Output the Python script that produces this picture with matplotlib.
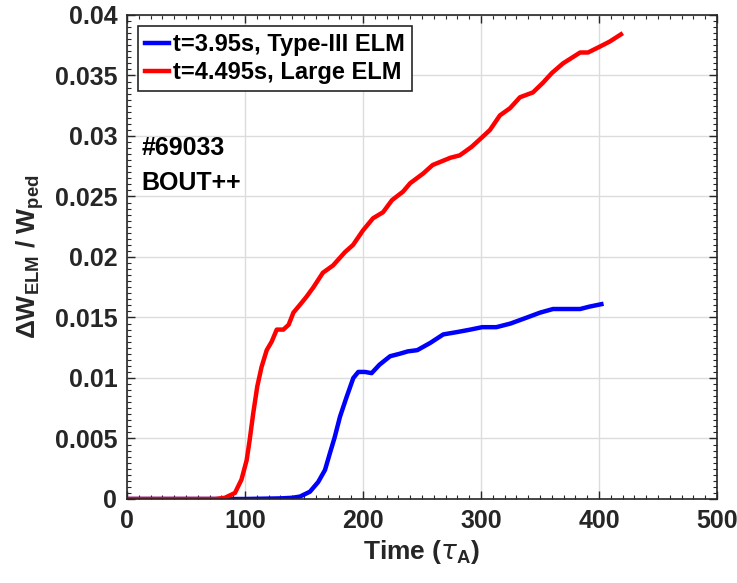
import matplotlib
matplotlib.use('Agg')
import matplotlib.pyplot as plt
from matplotlib.ticker import MultipleLocator

# data
t_type3 = [0, 50, 100, 130, 140, 146.6, 155, 162, 167.8, 172, 176, 180.5, 186, 191.8, 196, 201.7,
           207.3, 214, 223, 231, 238, 246, 257, 268, 280, 291, 301, 313, 325, 339, 350, 361, 373,
           384, 392, 402]
w_type3 = [0, 0, 0, 0.00005, 0.0001, 0.0002, 0.0006, 0.0014, 0.0024, 0.0038, 0.0051, 0.0068,
           0.0084, 0.01, 0.0105, 0.0105, 0.0104, 0.0111, 0.0118, 0.012, 0.0122, 0.0123, 0.0129,
           0.0136, 0.0138, 0.014, 0.0142, 0.0142, 0.0145, 0.015, 0.0154, 0.0157, 0.0157, 0.0157,
           0.0159, 0.0161]

t_large = [0, 40, 75, 83, 91.5, 97, 101.4, 104, 107, 110.4, 114, 118.4, 122.6, 126.9, 132.5,
           137, 141, 147, 152, 158, 166, 174.6, 184.7, 191.6, 200, 208.5, 217, 224.6, 233.9, 240,
           251, 259, 274, 282, 292, 301, 307.6, 316, 324.6, 333, 344, 352.5, 360, 369.5, 384,
           390.7, 401, 409, 418.6]
w_large = [0, 0, 0, 0.0001, 0.0005, 0.0016, 0.0032, 0.0049, 0.0071, 0.0093, 0.0109, 0.0123,
           0.013, 0.014, 0.014, 0.0144, 0.0154, 0.0161, 0.0167, 0.0175, 0.0187, 0.0193, 0.0204,
           0.021, 0.0222, 0.0232, 0.0237, 0.0247, 0.0254, 0.0261, 0.0269, 0.0276, 0.0282,
           0.0284, 0.0291, 0.0299, 0.0305, 0.0317, 0.0323, 0.0332, 0.0336, 0.0344, 0.0352,
           0.036, 0.0369, 0.0369, 0.0374, 0.0378, 0.0384]

labels = ['t=3.95s, Type-III ELM', 't=4.495s, Large ELM']
yticks = [0, 0.005, 0.01, 0.015, 0.02, 0.025, 0.03, 0.035, 0.04]
ytick_labels = ['0', '0.005', '0.01', '0.015', '0.02', '0.025', '0.03', '0.035', '0.04']

plt.rcParams['font.family'] = ['Liberation Sans', 'DejaVu Sans']
plt.rcParams['font.weight'] = 'bold'
plt.rcParams['axes.labelweight'] = 'bold'
plt.rcParams['mathtext.fontset'] = 'custom'
plt.rcParams['mathtext.rm'] = 'Liberation Sans:bold'
plt.rcParams['mathtext.it'] = 'DejaVu Sans:italic:normal'
plt.rcParams['mathtext.bf'] = 'Liberation Sans:bold'

txt = '#262626'
fig = plt.figure(figsize=(7.37, 5.83), dpi=100)
ax = fig.add_axes([0.1723, 0.1441, 0.8006, 0.8302])

ax.plot(t_type3, w_type3, color='#0000ff', lw=3.2, label=labels[0], solid_joinstyle='round')
ax.plot(t_large, w_large, color='#ff0000', lw=3.2, label=labels[1], solid_joinstyle='round')

ax.set_xlim(0, 500)
ax.set_ylim(0, 0.04)
ax.xaxis.set_major_locator(MultipleLocator(100))
ax.xaxis.set_minor_locator(MultipleLocator(10))
ax.yaxis.set_minor_locator(MultipleLocator(0.0005))
ax.set_yticks(yticks)
ax.set_yticklabels(ytick_labels)
ax.tick_params(which='both', direction='in', top=True, right=True, colors=txt, labelsize=18)
ax.tick_params(which='major', length=6, width=1, pad=7)
ax.tick_params(which='minor', length=3, width=0.8)
ax.grid(True, which='major', color='#dcdcdc', lw=1)
for s in ax.spines.values():
    s.set_color(txt)
    s.set_linewidth(1.2)

ax.set_xlabel(r'Time ($\tau_{\mathrm{A}}$)', fontsize=19, color=txt, labelpad=4)
ax.set_ylabel(r'$\Delta$W$_{\mathrm{ELM}}$ / W$_{\mathrm{ped}}$', fontsize=19, color=txt, labelpad=6)

ax.text(0.025, 0.725, '#69033', transform=ax.transAxes, fontsize=18, color='black', va='center')
ax.text(0.025, 0.653, 'BOUT++', transform=ax.transAxes, fontsize=18, color='black', va='center')

leg = ax.legend(loc='upper left', bbox_to_anchor=(0.0186, 0.977), fontsize=17, frameon=True,
                fancybox=False, edgecolor='#262626', handlelength=1.0, handletextpad=0.2,
                borderpad=0.3, labelspacing=0.2, borderaxespad=0, framealpha=1)
leg.get_frame().set_linewidth(1.2)

fig.savefig('out.png', dpi=100)
